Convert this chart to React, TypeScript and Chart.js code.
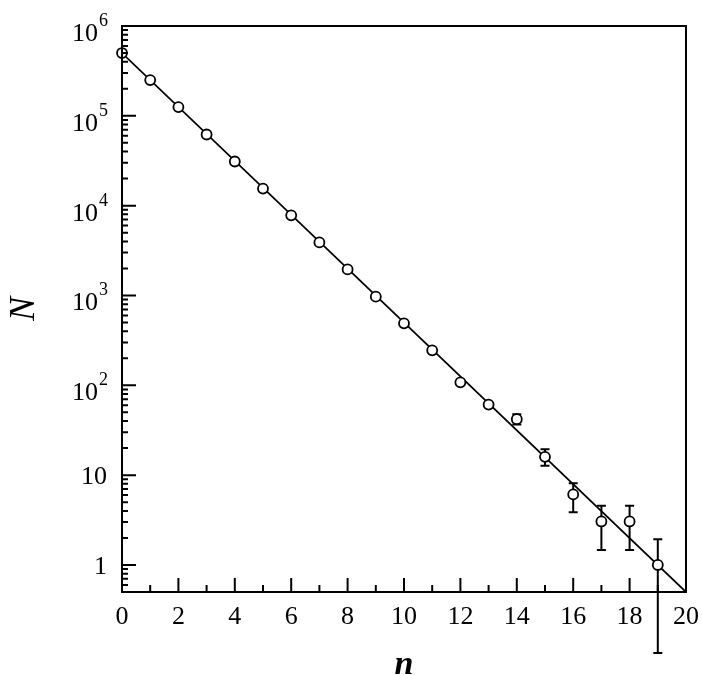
import React, { useEffect, useRef } from "react";
import { Chart, registerables } from "chart.js";

Chart.register(...registerables);

const nValues = [0, 1, 2, 3, 4, 5, 6, 7, 8, 9, 10, 11, 12, 13, 14, 15, 16, 17, 18, 19];
const counts = [500000, 250000, 125000, 62000, 31000, 15500, 7800, 3900, 1950, 970, 490, 245, 108, 61, 42, 16, 6.1, 3.05, 3.05, 1];
const errLow = [null, null, null, null, null, null, null, null, null, null, null, null, null, null, 36.5, 12.7, 3.85, 1.47, 1.47, 0.105];
const errHigh = [null, null, null, null, null, null, null, null, null, null, null, null, null, null, 47.5, 19.4, 8.1, 4.56, 4.56, 1.93];
const fitX = [0, 20];
const fitY = [500000, 0.5];
const xTickValues = [0, 2, 4, 6, 8, 10, 12, 14, 16, 18, 20];
const yTickValues = [1, 10, 100, 1000, 10000, 100000, 1000000];
const yTickBases = ["1", "10", "10", "10", "10", "10", "10"];
const yTickExponents = ["", "", "2", "3", "4", "5", "6"];

const FAMILY = "'Liberation Serif', 'DejaVu Serif', serif";

const framePlugin = {
  id: "frameAndTicks",
  beforeDatasetsDraw(chart: any) {
    const { ctx, scales } = chart;
    const xs = scales.x;
    const ys = scales.y;
    ctx.save();
    ctx.strokeStyle = "#000";
    ctx.lineWidth = 2;
    for (let i = 0; i < nValues.length; i++) {
      const lo = errLow[i];
      const hi = errHigh[i];
      if (lo == null || hi == null) continue;
      const px = xs.getPixelForValue(nValues[i]);
      const y1 = ys.getPixelForValue(lo);
      const y2 = ys.getPixelForValue(hi);
      ctx.beginPath();
      ctx.moveTo(px, y1);
      ctx.lineTo(px, y2);
      ctx.moveTo(px - 4.5, y1);
      ctx.lineTo(px + 4.5, y1);
      ctx.moveTo(px - 4.5, y2);
      ctx.lineTo(px + 4.5, y2);
      ctx.stroke();
    }
    ctx.restore();
  },
  afterDraw(chart: any) {
    const { ctx, chartArea, scales } = chart;
    const { left, right, top, bottom } = chartArea;
    const xs = scales.x;
    const ys = scales.y;
    ctx.save();
    ctx.strokeStyle = "#000";
    ctx.lineWidth = 2;
    ctx.strokeRect(left, top, right - left, bottom - top);
    ctx.beginPath();
    for (let v = 1; v < 20; v++) {
      const px = xs.getPixelForValue(v);
      const len = v % 2 === 0 ? 14 : 7;
      ctx.moveTo(px, bottom);
      ctx.lineTo(px, bottom - len);
    }
    for (let d = -1; d <= 5; d++) {
      for (let k = 1; k <= 9; k++) {
        const v = k * Math.pow(10, d);
        if (v < 0.55 || v > 1e6) continue;
        const py = ys.getPixelForValue(v);
        const len = k === 1 ? 14 : 6;
        ctx.moveTo(left, py);
        ctx.lineTo(left + len, py);
      }
    }
    ctx.moveTo(left, ys.getPixelForValue(1e6));
    ctx.lineTo(left + 14, ys.getPixelForValue(1e6));
    ctx.stroke();

    // y tick labels
    ctx.fillStyle = "#000";
    ctx.textBaseline = "alphabetic";
    const labelRight = left - 15;
    for (let i = 0; i < yTickValues.length; i++) {
      const py = ys.getPixelForValue(yTickValues[i]);
      const base = yTickBases[i];
      const exp = yTickExponents[i];
      if (!exp) {
        ctx.font = `26px ${FAMILY}`;
        ctx.textAlign = "right";
        ctx.fillText(base, labelRight, py + 9);
      } else {
        ctx.font = `18px ${FAMILY}`;
        ctx.textAlign = "left";
        const ew = ctx.measureText(exp).width;
        const expLeft = labelRight - ew + 1;
        ctx.fillText(exp, expLeft, py);
        ctx.font = `26px ${FAMILY}`;
        ctx.textAlign = "right";
        ctx.fillText(base, expLeft - 1, py + 15);
      }
    }
    ctx.restore();
  },
};

export default function App() {
  const ref = useRef<HTMLCanvasElement | null>(null);
  useEffect(() => {
    if (!ref.current) return;
    const chart = new Chart(ref.current, {
      type: "scatter",
      data: {
        datasets: [
          {
            type: "scatter",
            data: nValues.map((n, i) => ({ x: n, y: counts[i] })),
            pointStyle: "circle",
            pointRadius: 5,
            pointBackgroundColor: "#fff",
            pointBorderColor: "#000",
            pointBorderWidth: 1.8,
            clip: false,
          } as any,
          {
            type: "line",
            data: fitX.map((x, i) => ({ x, y: fitY[i] })),
            borderColor: "#000",
            borderWidth: 1.8,
            pointRadius: 0,
            fill: false,
          } as any,
        ],
      },
      options: {
        animation: false,
        responsive: false,
        maintainAspectRatio: false,
        layout: { padding: { top: 26, right: 16, left: 0, bottom: 0 } },
        plugins: { legend: { display: false }, tooltip: { enabled: false } },
        scales: {
          x: {
            type: "linear",
            min: 0,
            max: 20,
            grid: { display: false, drawTicks: false },
            border: { display: false },
            afterBuildTicks: (s: any) => {
              s.ticks = xTickValues.map((v) => ({ value: v }));
            },
            afterFit: (s: any) => {
              s.height = 83;
              s.paddingLeft = 0;
              s.paddingRight = 0;
            },
            ticks: {
              color: "#000",
              padding: 10,
              maxRotation: 0,
              font: { family: FAMILY, size: 26 },
              callback: (v: any) => String(v),
            },
            title: {
              display: true,
              text: "n",
              color: "#000",
              padding: { top: 0, bottom: 0 },
              font: { family: FAMILY, size: 34, style: "italic", weight: "bold", lineHeight: 0.6 },
            },
          },
          y: {
            type: "logarithmic",
            min: 0.5,
            max: 1000000,
            grid: { display: false, drawTicks: false },
            border: { display: false },
            afterBuildTicks: (s: any) => {
              s.ticks = yTickValues.map((v) => ({ value: v }));
            },
            afterFit: (s: any) => {
              s.width = 122;
              s.paddingTop = 0;
              s.paddingBottom = 0;
            },
            ticks: { display: false },
            title: {
              display: true,
              text: "N",
              color: "#000",
              padding: { top: 7, bottom: 0 },
              font: { family: FAMILY, size: 36, style: "italic", lineHeight: 1 },
            },
          },
        },
      },
      plugins: [framePlugin],
    });
    return () => chart.destroy();
  }, []);
  return (
    <div style={{ position: "absolute", left: 0, top: 0, width: 702, height: 675, background: "#fff" }}>
      <canvas ref={ref} width={702} height={675} style={{ width: 702, height: 675 }} />
    </div>
  );
}
